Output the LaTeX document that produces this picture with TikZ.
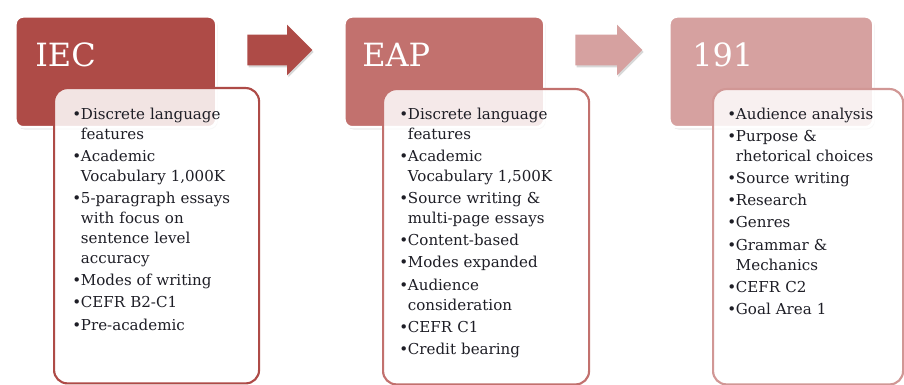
\documentclass[tikz,border=0pt]{standalone}
\usepackage{fontspec}
\setmainfont{DejaVu Serif}
\usetikzlibrary{positioning,shadows,shapes.arrows}

\definecolor{iecred}{HTML}{AE4B47}
\definecolor{eapred}{HTML}{C2716E}
\definecolor{pinkred}{HTML}{D6A1A0}
\definecolor{ink}{HTML}{1E1E26}

% bullet with hanging indent for the course lists
\newlength{\bulletw}
\setlength{\bulletw}{6.5pt}
\newcommand{\bitem}[1]{\par\hangindent=\bulletw\hangafter=1\noindent\makebox[\bulletw][l]{\textbullet}#1}

\tikzset{
  header/.style={draw=white, line width=2pt, rounded corners=6pt, anchor=north west,
    minimum height=83.25pt, inner sep=0pt,
    drop shadow={opacity=0.3, shadow xshift=1pt, shadow yshift=-1.5pt}},
  title/.style={text=white, font=\fontsize{24}{28}\selectfont, anchor=base west, inner sep=0pt},
  detail/.style={draw, line width=1.6pt, rounded corners=10pt, fill=white, fill opacity=0.85,
    anchor=north west, minimum height=221.5pt, inner sep=0pt},
  items/.style={anchor=north west, inner sep=0pt, text width=150pt, align=left, text=ink,
    font=\fontsize{11.3}{15}\selectfont},
  blockarrow/.style={single arrow, single arrow head extend=7.5pt, single arrow tip angle=90,
    inner xsep=0pt, inner ysep=11.25pt, draw=none, anchor=tail,
    drop shadow={opacity=0.3, shadow xshift=1pt, shadow yshift=-1.5pt}},
}

\begin{document}
\begin{tikzpicture}[x=0.75pt, y=-0.75pt]

  \path[use as bounding box, clip] (0,0) rectangle (904,385);
  \fill[white] (0,0) rectangle (904,385);

  % Course headers
  \node[header, fill=iecred, minimum width=150.75pt] (iec) at (14,15) {};
  \node[header, fill=eapred, minimum width=150pt] (eap) at (343,15) {};
  \node[header, fill=pinkred, minimum width=153pt] (wrt) at (668,15) {};

  \node[title] (iectitle) at (35,67) {IEC};
  \node[title] (eaptitle) at (362,67) {EAP};
  \node[title] (wrttitle) at (692,67) {191};

  % Detail boxes
  \node[detail, draw=iecred, minimum width=153.75pt] (iecbox) at (53,87) {};
  \node[detail, draw=eapred, minimum width=154.5pt] (eapbox) at (382,88) {};
  \node[detail, draw=pinkred!88!iecred, minimum width=142.5pt] (wrtbox) at (712,88) {};

  % Lists
  \node[items] (ieclist) at (72,97) {\setlength{\parskip}{1.6pt}%
    \bitem{Discrete language\newline features}
    \bitem{Academic\newline Vocabulary 1,000K}
    \bitem{5-paragraph essays\newline with focus on\newline sentence level\newline accuracy}
    \bitem{Modes of writing}
    \bitem{CEFR B2-C1}
    \bitem{Pre-academic}};
  \node[items] (eaplist) at (399,97) {\setlength{\parskip}{1.6pt}%
    \bitem{Discrete language\newline features}
    \bitem{Academic\newline Vocabulary 1,500K}
    \bitem{Source writing \&\newline multi-page essays}
    \bitem{Content-based}
    \bitem{Modes expanded}
    \bitem{Audience\newline consideration}
    \bitem{CEFR C1}
    \bitem{Credit bearing}};
  \node[items] (wrtlist) at (727,97) {\setlength{\parskip}{1.6pt}%
    \bitem{Audience analysis}
    \bitem{Purpose \&\newline rhetorical choices}
    \bitem{Source writing}
    \bitem{Research}
    \bitem{Genres}
    \bitem{Grammar \&\newline Mechanics}
    \bitem{CEFR C2}
    \bitem{Goal Area 1}};

  % Arrows between the courses
  \node[blockarrow, fill=iecred, minimum height=48.75pt] (step1) at (247,50) {};
  \node[blockarrow, fill=pinkred, minimum height=50.25pt] (step2) at (575,50) {};

\end{tikzpicture}
\end{document}
